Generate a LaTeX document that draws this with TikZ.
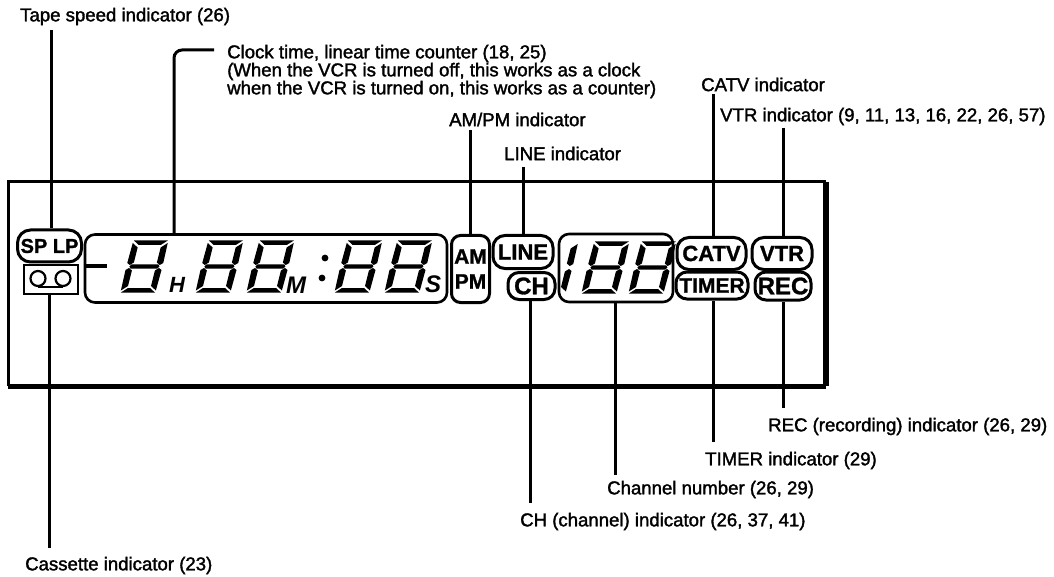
\documentclass[tikz,border=0pt]{standalone}
\usepackage{fontspec}
\setmainfont{Liberation Sans}
\newfontfamily\lblfont[FakeBold=1.7]{Liberation Sans}
\newfontfamily\lampfont[FakeBold=1.2]{Liberation Sans Bold}
\usepackage{xcolor}
\usetikzlibrary{arrows.meta, positioning}

% one LCD digit, corner = upper left
\newcommand{\segone}[2]{
  \begin{scope}[shift={(#1,#2)}, xslant=0.25]
    \fill (35.5,3) -- (29.5,7.5) -- (29.5,22.5) -- (33,25) -- (36,23) -- cycle;
    \fill (33,28) -- (29.5,30.5) -- (29.5,46) -- (35.5,50.5) -- (36,30) -- cycle;
  \end{scope}
}
\newcommand{\segdigit}[2]{
  \segone{#1}{#2}
  \begin{scope}[shift={(#1,#2)}, xslant=0.25]
    \fill (1,0.5) -- (35,0.5) -- (29,5) -- (7,5) -- cycle;
    \fill (4.5,24.5) -- (31.5,24.5) -- (33,26.5) -- (31.5,28.5) -- (4.5,28.5) -- (3,26.5) -- cycle;
    \fill (7,48) -- (29,48) -- (35,52.5) -- (1,52.5) -- cycle;
    \fill (0.5,3) -- (6.5,7.5) -- (6.5,22.5) -- (3,25) -- (0,23) -- cycle;
    \fill (3,28) -- (6.5,30.5) -- (6.5,46) -- (0.5,50.5) -- (0,30) -- cycle;
  \end{scope}
}

\begin{document}
\begin{tikzpicture}[
  x=1pt, y=-1pt,
  lamp/.style={draw, line width=3pt, rounded corners=9pt, align=center, inner sep=0pt,
               font=\lampfont\fontsize{22}{24}\selectfont},
  lcd/.style={draw, line width=2.6pt, rounded corners=10pt, inner sep=0pt},
  lbl/.style={anchor=west, inner sep=0pt, yshift=-1.5pt, align=left, font=\lblfont\fontsize{18.6}{18}\selectfont},
  unit/.style={inner sep=0pt, font=\bfseries\itshape\fontsize{22}{24}\selectfont},
  lead/.style={line width=3pt}
]
  \useasboundingbox (0,0) rectangle (1054,577);

  % outer frame
  \node[minimum width=817pt, minimum height=204pt, inner sep=0pt] (frame) at (417,284) {};
  \draw[line width=3pt] (frame.south west) -- (frame.north west) -- (frame.north east);
  \draw[line width=6pt] (frame.north east) -- (frame.south east);
  \draw[line width=5pt] (frame.south east) -- (frame.south west);

  % indicators
  \node[lamp, minimum width=64pt, minimum height=32pt, rounded corners=13pt,
        font=\lampfont\fontsize{20}{22}\selectfont] (speed) at (49.5,246) {\raisebox{-5pt}{SP LP}};
  \node[draw, line width=2.4pt, minimum width=54pt, minimum height=29pt, inner sep=0pt] (cassette) at (51,279.5) {};
  \node[draw, circle, line width=2.2pt, minimum size=15pt, inner sep=0pt] (reela) at (38,278.5) {};
  \node[draw, circle, line width=2.2pt, minimum size=15pt, inner sep=0pt] (reelb) at (63,278.5) {};
  \draw[line width=2.2pt] (reela.south) -- (reelb.south);
  \node[lcd, minimum width=362pt, minimum height=68pt] (clock) at (266,268.5) {};
  \node[lamp, minimum width=38pt, minimum height=67pt, font=\lampfont\fontsize{21}{25}\selectfont] (ampm) at (470.5,269) {AM\\PM};
  \node[lamp, minimum width=60pt, minimum height=33pt, rounded corners=12pt] (line) at (523,252) {LINE};
  \node[lamp, minimum width=47pt, minimum height=27pt, rounded corners=11pt, font=\lampfont\fontsize{24}{26}\selectfont] (ch) at (531.5,286) {CH};
  \node[lcd, minimum width=114pt, minimum height=68pt] (channel) at (616,268) {};
  \node[lamp, minimum width=69pt, minimum height=32pt, rounded corners=12pt] (catv) at (711.5,253.5) {CATV};
  \node[lamp, minimum width=72pt, minimum height=27pt, rounded corners=11pt, font=\lampfont\fontsize{21}{23}\selectfont] (timer) at (712,285.5) {TIMER};
  \node[lamp, minimum width=60pt, minimum height=32pt, rounded corners=12pt] (vtr) at (782,253.5) {VTR};
  \node[lamp, minimum width=56pt, minimum height=28pt, rounded corners=11pt, font=\lampfont\fontsize{24}{26}\selectfont] (rec) at (783,286) {REC};

  % display contents
  \draw[line width=4pt] (clock.west |- cassette.north) ++(0,2) -- ++(23,0);
  \segdigit{133}{240}
  \segdigit{208}{240}
  \segdigit{259}{240}
  \segdigit{347}{240}
  \segdigit{397}{240}
  \segone{543}{241}
  \segdigit{594}{241}
  \segdigit{641}{241}
  \node[unit] (uh) at (177,285) {H};
  \node[unit, font=\bfseries\itshape\fontsize{24}{26}\selectfont] (um) at (296,285) {M};
  \node[unit, font=\bfseries\itshape\fontsize{24}{26}\selectfont] (us) at (433,284) {S};
  \fill (325,258) circle (3.4pt) (322,278) circle (3.4pt);

  % labels
  \node[lbl] (tapetxt) at (20,15) {Tape speed indicator (26)};
  \node[lbl] (clocktxt) at (227,70) {Clock time, linear time counter (18, 25)\\(When the VCR is turned off, this works as a clock\\when the VCR is turned on, this works as a counter)};
  \node[lbl] (ampmtxt) at (449,118) {AM/PM indicator};
  \node[lbl] (linetxt) at (504,152) {LINE indicator};
  \node[lbl] (catvtxt) at (701,83) {CATV indicator};
  \node[lbl] (vtrtxt) at (720,115) {VTR indicator (9, 11, 13, 16, 22, 26, 57)};
  \node[lbl] (rectxt) at (768,425) {REC (recording) indicator (26, 29)};
  \node[lbl] (timertxt) at (705,459) {TIMER indicator (29)};
  \node[lbl] (chantxt) at (607,488) {Channel number (26, 29)};
  \node[lbl] (chtxt) at (520,520) {CH (channel) indicator (26, 37, 41)};
  \node[lbl] (casstxt) at (25,564) {Cassette indicator (23)};

  % free ends of the leads
  \coordinate (tapeend) at (51,30);
  \coordinate (casend) at (49,548);
  \coordinate (clockend) at (214,50);
  \coordinate (clockfoot) at (174,234);
  \coordinate (ampmend) at (470,130);
  \coordinate (lineend) at (523,167);
  \coordinate (catvend) at (713,94);
  \coordinate (vtrend) at (783,128);
  \coordinate (recend) at (783,408);
  \coordinate (timerend) at (713,442);
  \coordinate (chanend) at (615,475);
  \coordinate (chend) at (530,503);

  \draw[lead] (tapeend) -- (tapeend |- speed.north);
  \draw[lead] (casend) -- (casend |- cassette.south);
  \draw[lead, rounded corners=8pt] (clockend) -| (clockfoot);
  \draw[lead] (ampmend) -- (ampmend |- ampm.north);
  \draw[lead] (lineend) -- (lineend |- line.north);
  \draw[lead] (catvend) -- (catvend |- catv.north);
  \draw[lead] (vtrend) -- (vtrend |- vtr.north);
  \draw[lead] (recend) -- (recend |- rec.south);
  \draw[lead] (timerend) -- (timerend |- timer.south);
  \draw[lead] (chanend) -- (chanend |- channel.south);
  \draw[lead] (chend) -- (chend |- ch.south);
\end{tikzpicture}
\end{document}
